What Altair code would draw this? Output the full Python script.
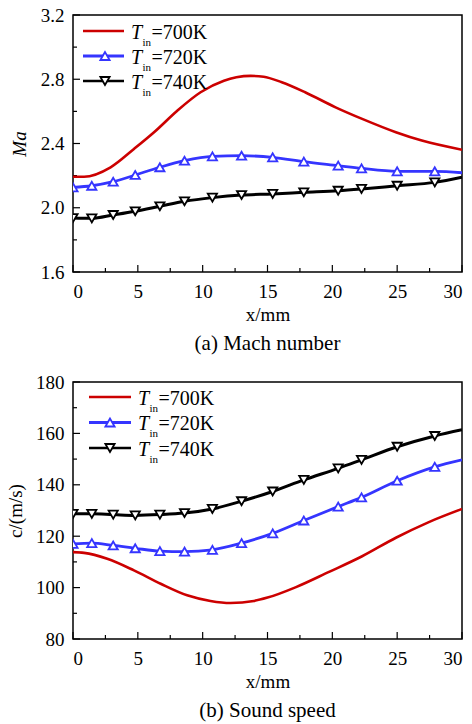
import altair as alt
import pandas as pd

# ---------------- data ----------------
series_names = ["700K", "720K", "740K"]
series_colors = ["#cc0000", "#3535ff", "#000000"]

marker_x = [0, 1.45, 3.1, 4.8, 6.7, 8.6, 10.75, 13.0, 15.4, 17.8, 20.45, 22.25, 25.0, 27.9, 30]

# (a) Mach number
ma_700_x = [0, 0.85, 2.9, 4.7, 6.25, 8.04, 9.84, 11.64, 12.6, 13.7, 14.7, 16.1, 17.9, 20.25, 22.3, 24.9, 26.9, 30]
ma_700_y = [2.193, 2.193, 2.252, 2.366, 2.470, 2.604, 2.719, 2.791, 2.812, 2.821, 2.816, 2.781, 2.719, 2.625, 2.553, 2.470, 2.418, 2.361]
ma_720_y = [2.127, 2.137, 2.162, 2.204, 2.252, 2.293, 2.320, 2.324, 2.314, 2.287, 2.262, 2.245, 2.227, 2.227, 2.218]
ma_740_y = [1.936, 1.934, 1.955, 1.978, 2.009, 2.040, 2.063, 2.079, 2.086, 2.096, 2.106, 2.117, 2.137, 2.158, 2.190]

# (b) Sound speed
c_700_x = [0, 0.85, 2.64, 4.7, 6.76, 8.8, 10.6, 12.15, 13.95, 15.0, 17.2, 19.7, 22.3, 24.9, 27.4, 30]
c_700_y = [113.8, 113.5, 111.2, 106.7, 101.5, 97.0, 94.8, 94.0, 94.8, 96.1, 100.2, 106.0, 112.2, 119.4, 125.4, 130.6]
c_720_y = [117.0, 117.3, 116.4, 115.3, 114.2, 114.0, 114.7, 117.3, 121.1, 126.1, 131.5, 135.1, 141.6, 147.0, 149.7]
c_740_y = [128.7, 128.7, 128.4, 128.1, 128.4, 129.0, 130.6, 133.6, 137.4, 141.9, 146.4, 149.7, 154.8, 159.0, 161.4]

x_major = [0, 5, 10, 15, 20, 25, 30]
x_minor = [2.5, 7.5, 12.5, 17.5, 22.5, 27.5]
ma_major = [1.6, 2.0, 2.4, 2.8, 3.2]
ma_minor = [1.8, 2.2, 2.6, 3.0]
c_major = [80, 100, 120, 140, 160, 180]
c_minor = [90, 110, 130, 150, 170]

FONT = "Liberation Serif"
W, H = 389, 257


def long_df(x700, y700, y720, y740):
    rows = []
    for x, y in zip(x700, y700):
        rows.append({"x": x, "y": y, "s": "700K"})
    for x, y in zip(marker_x, y720):
        rows.append({"x": x, "y": y, "s": "720K"})
    for x, y in zip(marker_x, y740):
        rows.append({"x": x, "y": y, "s": "740K"})
    return pd.DataFrame(rows)


def panel(df, ydom, ymaj, ymin, yfmt, ytitle, ytitle_style, caption, leg, ytitlepad):
    xsc = alt.Scale(domain=[0, 30], nice=False, zero=False)
    ysc = alt.Scale(domain=ydom, nice=False, zero=False)
    xax = alt.Axis(values=x_major, title="x/mm", format="d", labelPadding=10, titlePadding=4,
                   labelFont=FONT, labelFontSize=19, titleFont=FONT, titleFontSize=19,
                   titleFontWeight="normal", labelColor="black", titleColor="black",
                   domain=False, grid=False, ticks=False, tickSize=0)
    yax = alt.Axis(values=ymaj, title=ytitle, format=yfmt, labelPadding=9,
                   titlePadding=ytitlepad, titleFontStyle=ytitle_style,
                   labelFont=FONT, labelFontSize=19, titleFont=FONT, titleFontSize=19,
                   titleFontWeight="normal", labelColor="black", titleColor="black",
                   domain=False, grid=False, ticks=False, tickSize=0)
    X = lambda f: alt.X(f, scale=xsc, axis=xax)
    Y = lambda f: alt.Y(f, scale=ysc, axis=yax)

    lines = alt.Chart(df).mark_line(interpolate="monotone", clip=True).encode(
        x=X("x:Q"), y=Y("y:Q"),
        color=alt.Color("s:N", scale=alt.Scale(domain=series_names, range=series_colors), legend=None),
        strokeWidth=alt.StrokeWidth("s:N", scale=alt.Scale(domain=series_names, range=[2.6, 3.0, 2.6]), legend=None),
        detail="s:N",
    )
    pts = alt.Chart(df).transform_filter(
        "datum.s != '700K' && datum.x < 30"
    ).mark_point(filled=False, fill="white", fillOpacity=1, size=85, strokeWidth=1.8, clip=True, opacity=1).encode(
        x=X("x:Q"), y=Y("y:Q"),
        stroke=alt.Stroke("s:N", scale=alt.Scale(domain=series_names, range=series_colors), legend=None),
        shape=alt.Shape("s:N", scale=alt.Scale(domain=series_names, range=["circle", "triangle-up", "triangle-down"]), legend=None),
    )
    tx_maj = alt.Chart(pd.DataFrame({"v": x_major})).mark_rule(color="black", strokeWidth=1.2).encode(
        x=X("v:Q"), y=alt.value(H), y2=alt.value(H - 7))
    tx_min = alt.Chart(pd.DataFrame({"v": x_minor})).mark_rule(color="black", strokeWidth=1.2).encode(
        x=X("v:Q"), y=alt.value(H), y2=alt.value(H - 4))
    ty_maj = alt.Chart(pd.DataFrame({"v": ymaj})).mark_rule(color="black", strokeWidth=1.2).encode(
        y=Y("v:Q"), x=alt.value(0), x2=alt.value(7))
    ty_min = alt.Chart(pd.DataFrame({"v": ymin})).mark_rule(color="black", strokeWidth=1.2).encode(
        y=Y("v:Q"), x=alt.value(0), x2=alt.value(4))

    layers = [tx_maj, tx_min, ty_maj, ty_min, lines, pts]

    lx0, lx1, lmx, ltx, ly0, dy = leg
    shapes = [None, "triangle-up", "triangle-down"]
    widths = [2.6, 3.0, 2.6]
    for i, (name, col) in enumerate(zip(series_names, series_colors)):
        yy = ly0 + i * dy
        d = pd.DataFrame({"t": ["T"], "sub": ["in"], "rest": ["=" + name]})
        layers.append(alt.Chart(d).mark_rule(color=col, strokeWidth=widths[i]).encode(
            x=alt.value(lx0), x2=alt.value(lx1), y=alt.value(yy)))
        if shapes[i]:
            layers.append(alt.Chart(d).mark_point(shape=shapes[i], filled=False, fill="white", fillOpacity=1,
                                                  size=85, strokeWidth=1.8, color=col, opacity=1).encode(
                x=alt.value(lmx), y=alt.value(yy)))
        layers.append(alt.Chart(d).mark_text(font=FONT, fontSize=20, fontStyle="italic", align="left",
                                             baseline="alphabetic", color="black").encode(
            x=alt.value(ltx), y=alt.value(yy + 7.5), text="t:N"))
        layers.append(alt.Chart(d).mark_text(font=FONT, fontSize=11, align="left",
                                             baseline="alphabetic", color="black").encode(
            x=alt.value(ltx + 11.5), y=alt.value(yy + 14.5), text="sub:N"))
        layers.append(alt.Chart(d).mark_text(font=FONT, fontSize=20, align="left",
                                             baseline="alphabetic", color="black").encode(
            x=alt.value(ltx + 20.5), y=alt.value(yy + 7.5), text="rest:N"))

    return alt.layer(*layers).properties(
        width=W, height=H,
        title=alt.TitleParams(caption, orient="bottom", font=FONT, fontSize=21, fontWeight="normal",
                              color="black", offset=9, anchor="middle"),
    )


df_a = long_df(ma_700_x, ma_700_y, ma_720_y, ma_740_y)
df_b = long_df(c_700_x, c_700_y, c_720_y, c_740_y)

pa = panel(df_a, [1.6, 3.2], ma_major, ma_minor, ".1f", "Ma", "italic", "(a) Mach number",
           (10, 51, 32, 58, 16, 25), 11)
pb = panel(df_b, [80, 180], c_major, c_minor, "d", "c/(m/s)", "normal", "(b) Sound speed",
           (16, 58, 37, 65, 15, 25.5), 10)

chart = alt.vconcat(pa, pb, spacing=17).properties(
    padding={"left": 5, "top": 5, "right": 5, "bottom": 5}
).configure_view(stroke="black", strokeWidth=1.5).configure_axis(
    domain=False, grid=False, ticks=False, tickSize=0,
    labelFont=FONT, labelFontSize=19, labelColor="black",
    titleFont=FONT, titleFontSize=19, titleFontWeight="normal", titleColor="black",
).configure_concat(spacing=17)

chart.save("out.html", embed_options={"renderer": "svg", "actions": False})
